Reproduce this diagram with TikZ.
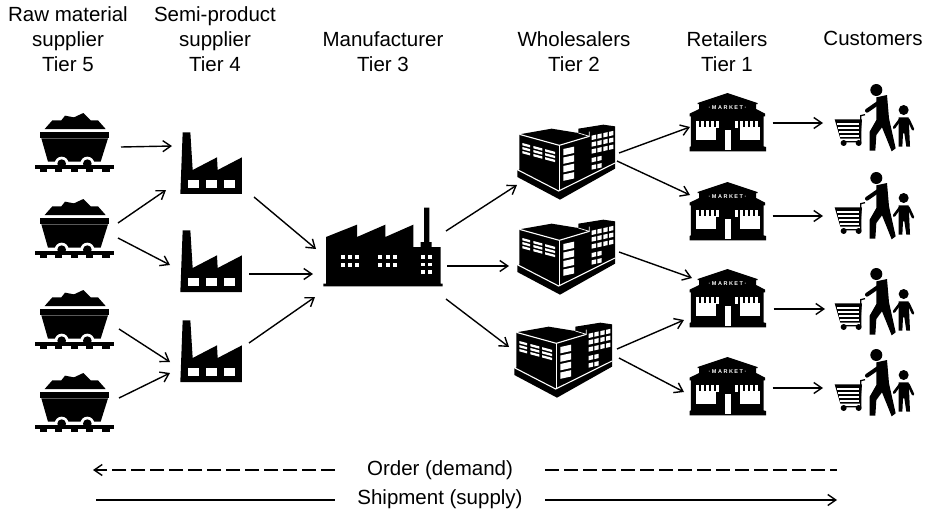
\documentclass[tikz,border=0pt]{standalone}
\usepackage{fontspec}
\setmainfont{Liberation Sans}
\usetikzlibrary{calc,arrows.meta}
\tikzset{
  x=1pt,y=-1pt,
  barb/.tip={Straight Barb[length=8pt,width=11pt,line width=1.4pt]},
  conn/.style={draw=black,line width=1.4pt,-barb},
  plainline/.style={draw=black,line width=1.4pt},
  dashline/.style={draw=black,line width=1.4pt,dash pattern=on 14pt off 5pt},
  iconbox/.style={inner sep=0pt,minimum size=1pt},
  lab/.style={align=center,font=\fontsize{20.5}{25}\selectfont,inner sep=0pt},
  zoomed/.style={x=.3333pt,y=-.3333pt},
  pics/cart/.style={code={
    \begin{scope}[zoomed,shift={(-160,-130)}]
      \fill (72,88)--(95,62)--(122,62)--(133,48)--(160,53)--(188,40)--(210,62)--(232,62)--(255,88)--cycle;
      \fill (58,97) rectangle (265,116);
      \fill (62,116)--(262,116)--(240,186)--(82,186)--cycle;
      \fill[white] (123,192) circle (21);
      \fill[white] (200,192) circle (21);
      \fill[white] (80,187) rectangle (245,197);
      \fill (123,192) circle (13);
      \fill (200,192) circle (13);
      \fill (43,197) rectangle (280,208);
      \foreach \a in {57,103,150,196,245} {\fill (\a,208) rectangle ++(22,8);}
    \end{scope}}},
  pics/plant/.style={code={
    \begin{scope}[zoomed,shift={(-572,-187)}]
      \fill (480,280)--(487,95)--(510,95)--(517,208)--(590,170)--(592,208)--(665,170)--(665,280)--cycle;
      \foreach \a in {502,556,610} {\fill[white] (\a,237) rectangle ++(33,25);}
    \end{scope}}},
  pics/mill/.style={code={
    \begin{scope}[zoomed,shift={(-219,-380)}]
      \fill (40,498)--(398,498)--(398,490)--(392,490)--(392,380)--(365,380)--(365,365)--(358,365)--(358,262)--(342,262)--(342,365)--(332,365)--(332,380)--(310,380)--(310,313)--(226,350)--(226,313)--(141,350)--(141,313)--(48,350)--(48,490)--(40,490)--cycle;
      \foreach \a in {92,114,136,205,227,249} \foreach \b in {405,428} {\fill[white] (\a,\b) rectangle ++(12,11);}
      \foreach \a in {332,354} \foreach \b in {405,427,450} {\fill[white] (\a,\b) rectangle ++(12,11);}
    \end{scope}}},
  pics/depot/.style={code={
    \begin{scope}[zoomed,shift={(-765,-125)}]
      \fill (628,42)--(725,25)--(805,38)--(805,25)--(880,13)--(915,18)--(915,145)--(750,238)--(622,170)--(622,150)--(628,148)--cycle;
      \draw[white,line width=1.1pt] (628,42)--(748,75)--(838,48);
      \draw[white,line width=1.1pt] (748,75)--(748,212);
      \draw[white,line width=1.1pt] (622,148)--(746,212)--(915,128);
      \draw[white,line width=.7pt] (805,38)--(838,48)--(838,34);
      \foreach \a/\w in {637/23,670/27,705/30} \foreach \b in {0,1,2} {
        \fill[white] (\a,{68+12*\b+(\a-637)*.27}) -- ++(\w,{\w*.27}) -- ++(0,7) -- ++(-\w,{-\w*.27}) -- cycle;}
      \foreach \b in {0,1,2,3} {
        \fill[white] (760,{86+25.5*\b}) -- (792,{79+25.5*\b}) -- ++(0,19) -- (760,{105+25.5*\b}) -- cycle;}
      \foreach \a in {845,862,880,897} \foreach \b in {46,66,87} {
        \fill[white] (\a,{\b-(\a-845)*.22}) -- ++(13,-3) -- ++(0,13) -- ++(-13,3) -- cycle;}
      \foreach \a in {845,862} \foreach \b in {113,135} {
        \fill[white] (\a,{\b-(\a-845)*.22}) -- ++(13,-3) -- ++(0,13) -- ++(-13,3) -- cycle;}
    \end{scope}}},
  pics/shop/.style={code={
    \begin{scope}[zoomed,shift={(-142,-100)}]
      \fill (52,40)--(142,10)--(232,40)--(232,43)--(228,43)--(228,58)--(255,72)--(255,80)--(250,80)--(250,170)--(258,172)--(258,185)--(28,185)--(28,172)--(32,170)--(32,80)--(28,80)--(28,72)--(57,58)--(57,43)--(52,43)--cycle;
      \node[text=white,inner sep=0pt,font=\fontsize{5.5}{5.5}\bfseries\selectfont] at (142,55) {·\hspace{1.5pt}M\hspace{1.5pt}A\hspace{1.5pt}R\hspace{1.5pt}K\hspace{1.5pt}E\hspace{1.5pt}T\hspace{1.5pt}·};
      \fill[white] (48,113) rectangle (108,150);
      \fill[white] (178,113) rectangle (238,150);
      \fill[white] (133,122) rectangle (151,180);
      \foreach \a in {48,63,78,93,108,165,180,195,210,225} {\fill[white] (\a,95) rectangle ++(9,19);}
    \end{scope}}},
  pics/buyer/.style={code={
    \begin{scope}[zoomed,shift={(-580,-90)}]
      \fill (590,0) circle (18);
      \fill (590,22)--(622,15)--(628,85)--(648,175)--(636,184)--(607,112)--(590,135)--(587,182)--(570,182)--(570,125)--(590,90)--(590,50)--cycle;
      \draw[line width=4pt,line cap=round] (598,37)--(562,62);
      \fill (672,60) circle (15);
      \fill (657,82)--(687,82)--(691,170)--(680,170)--(674,130)--(670,130)--(668,170)--(657,170)--cycle;
      \draw[line width=2.6pt,line cap=round] (660,90)--(643,113);
      \draw[line width=2.6pt,line cap=round] (686,88)--(700,118);
      \fill (465,88)--(547,88)--(542,146)--(482,146)--cycle;
      \draw[line width=1.3pt] (556,74)--(543,77)--(543,155)--(486,155);
      \foreach \b in {99,111,123,135} {\fill[white] ({472+(\b-99)*.22},\b) rectangle (538,{\b+6});}
      \fill (492,159) circle (9);
      \fill (537,159) circle (9);
    \end{scope}}}
}
\begin{document}
\begin{tikzpicture}
\useasboundingbox (0,0) rectangle (926,514);
% nodes
\foreach \n/\yy in {c1/143,c2/229,c3/320,c4/403} {\node[iconbox] (\n) at (74,\yy) {}; \pic at (\n) {cart};}
\foreach \n/\yy in {f1/163,f2/261,f3/351} {\node[iconbox] (\n) at (211,\yy) {}; \pic at (\n) {plant};}
\node[iconbox] (m) at (383,247) {}; \pic at (m) {mill};
\node[iconbox] (w1) at (565,162) {}; \pic at (w1) {depot};
\node[iconbox] (w2) at (565,257) {}; \pic at (w2) {depot};
\node[iconbox] (w3) at (562,360) {}; \pic at (w3) {depot};
\foreach \n/\yy in {r1/123,r2/212,r3/299,r4/387} {\node[iconbox] (\n) at (727.5,\yy) {}; \pic at (\n) {shop};}
\foreach \n/\yy in {b1/120,b2/208,b3/304,b4/385} {\node[iconbox] (\n) at (873,\yy) {}; \pic at (\n) {buyer};}
% connectors
\draw[conn] ($(c1)+(47,4)$) -- ($(f1)+(-39,-17)$);
\draw[conn] ($(c2)+(44,-6)$) -- ($(f1)+(-45,27)$);
\draw[conn] ($(c2)+(44,9)$) -- ($(f2)+(-41,4)$);
\draw[conn] ($(c3)+(45,9)$) -- ($(f3)+(-41,11)$);
\draw[conn] ($(c4)+(45,-5)$) -- ($(f3)+(-41,22)$);
\draw[conn] ($(f1)+(43,34)$) -- ($(m)+(-67,2)$);
\draw[conn] ($(f2)+(38,13)$) -- ($(m)+(-70,27)$);
\draw[conn] ($(f3)+(38,-8)$) -- ($(m)+(-68,50)$);
\draw[conn] ($(m)+(63,-16)$) -- ($(w1)+(-48,23)$);
\draw[conn] ($(m)+(64,19)$) -- ($(w2)+(-56,9)$);
\draw[conn] ($(m)+(63,52)$) -- ($(w3)+(-53,-13)$);
\draw[conn] ($(w1)+(54,-9)$) -- ($(r1)+(-37.5,4)$);
\draw[conn] ($(w1)+(52,-1)$) -- ($(r2)+(-37.5,-17)$);
\draw[conn] ($(w2)+(54,-5)$) -- ($(r3)+(-35.5,-21)$);
\draw[conn] ($(w3)+(55,-11)$) -- ($(r3)+(-43.5,21)$);
\draw[conn] ($(w3)+(57,-2)$) -- ($(r4)+(-43.5,5)$);
\draw[conn] ($(r1)+(45,0)$) -- ($(b1)+(-50,3)$);
\draw[conn] ($(r2)+(45,4)$) -- ($(b2)+(-50,8)$);
\draw[conn] ($(r3)+(46,10)$) -- ($(b3)+(-48,5)$);
\draw[conn] ($(r4)+(45,1)$) -- ($(b4)+(-50,3)$);
% headings
\node[lab] at (68,39) {Raw material\\supplier\\Tier 5};
\node[lab] at (215,39) {Semi-product\\supplier\\Tier 4};
\node[lab] at (383,52) {Manufacturer\\Tier 3};
\node[lab] at (574,52) {Wholesalers\\Tier 2};
\node[lab] at (727,52) {Retailers\\Tier 1};
\node[lab] at (873,38) {Customers};
% legend
\node[lab] (ord) at (440,470) {Order (demand)};
\node[lab] (shp) at (440,499) {Shipment (supply)};
\coordinate (oa) at (93,470); \coordinate (ob) at (335,470);
\coordinate (oc) at (545,470); \coordinate (od) at (837,470);
\coordinate (sa) at (96,500); \coordinate (sb) at (335,500);
\coordinate (sc) at (545,500); \coordinate (sd) at (837,500);
\draw[dashline,-barb] (ob) -- (oa);
\draw[dashline] (oc) -- (od);
\draw[plainline] (sa) -- (sb);
\draw[conn] (sc) -- (sd);
\end{tikzpicture}
\end{document}
